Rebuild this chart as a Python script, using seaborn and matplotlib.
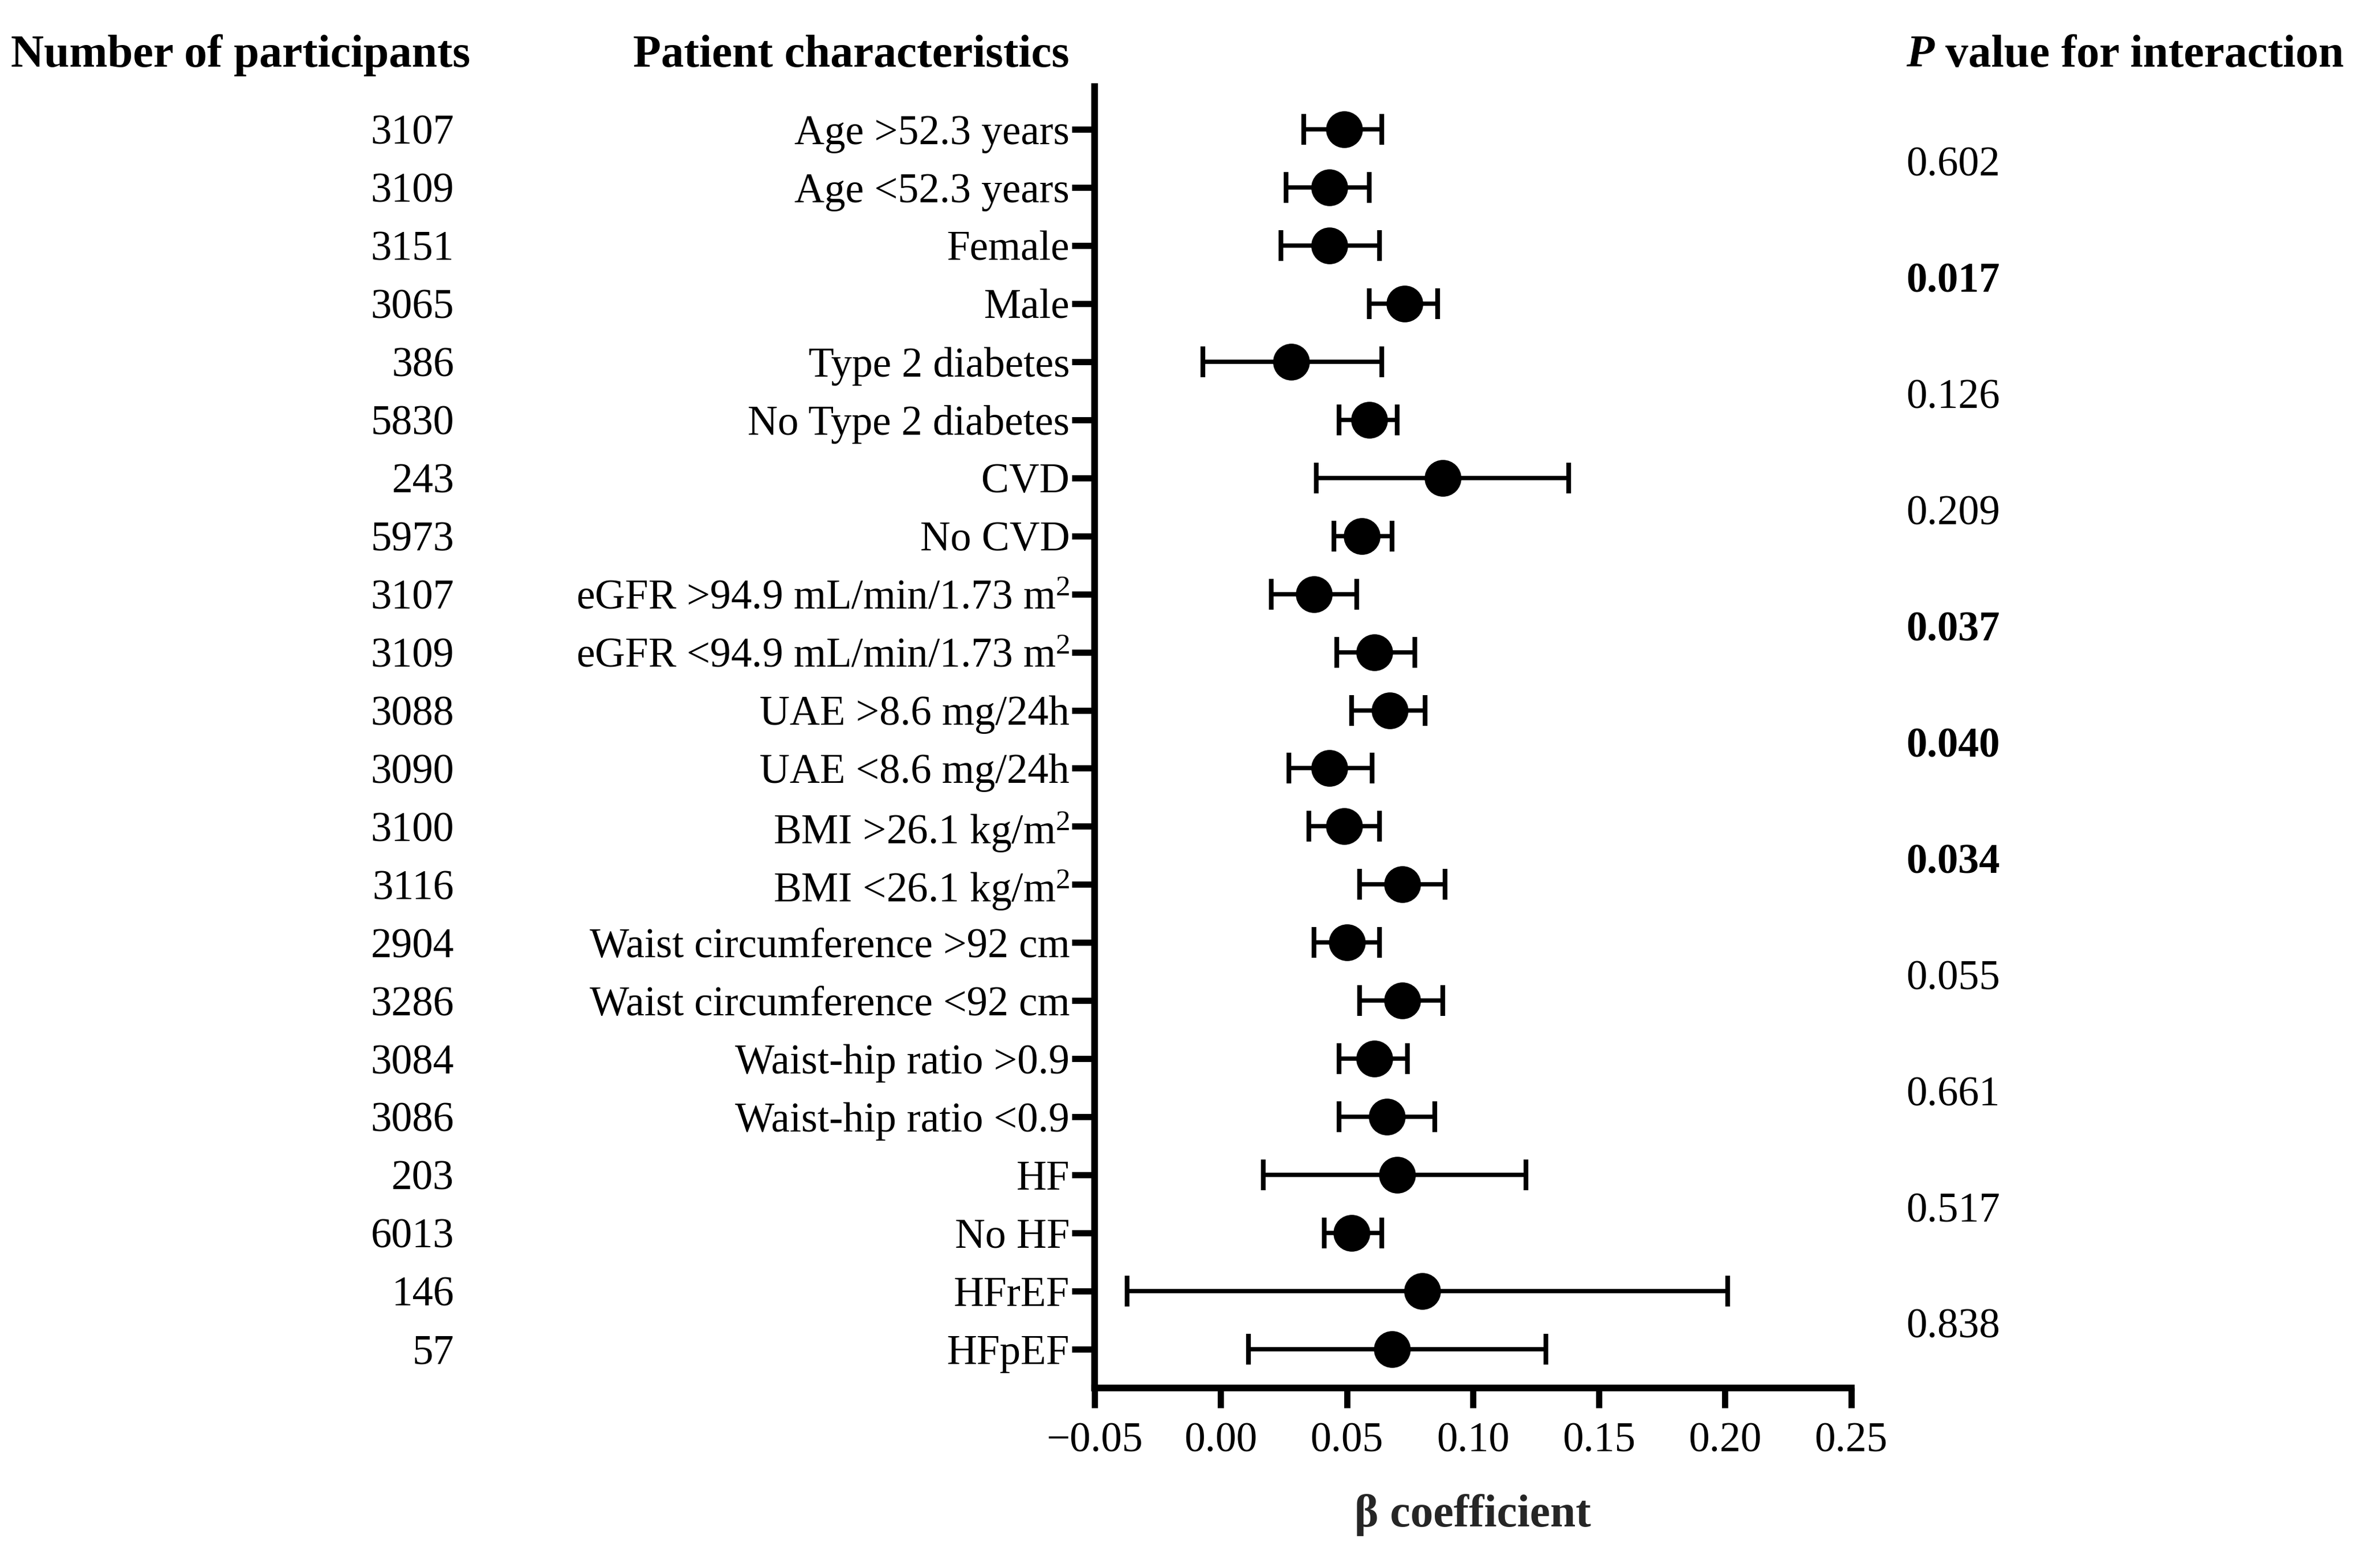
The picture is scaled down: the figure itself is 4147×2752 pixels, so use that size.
import numpy as np
import pandas as pd
import seaborn as sns
import matplotlib.pyplot as plt
from matplotlib import ticker
from matplotlib.transforms import blended_transform_factory

labels = ["Age >52.3 years", "Age <52.3 years", "Female", "Male",
          "Type 2 diabetes", "No Type 2 diabetes", "CVD", "No CVD",
          "eGFR >94.9 mL/min/1.73 m$^2$", "eGFR <94.9 mL/min/1.73 m$^2$",
          "UAE >8.6 mg/24h", "UAE <8.6 mg/24h",
          "BMI >26.1 kg/m$^2$", "BMI <26.1 kg/m$^2$",
          "Waist circumference >92 cm", "Waist circumference <92 cm",
          "Waist-hip ratio >0.9", "Waist-hip ratio <0.9",
          "HF", "No HF", "HFrEF", "HFpEF"]
participants = [3107, 3109, 3151, 3065, 386, 5830, 243, 5973, 3107, 3109, 3088,
                3090, 3100, 3116, 2904, 3286, 3084, 3086, 203, 6013, 146, 57]
beta = [0.049, 0.043, 0.043, 0.073, 0.028, 0.059, 0.088, 0.056, 0.037, 0.061, 0.067,
        0.043, 0.049, 0.072, 0.050, 0.072, 0.061, 0.066, 0.070, 0.052, 0.080, 0.068]
ci_low = [0.033, 0.026, 0.024, 0.059, -0.007, 0.047, 0.038, 0.045, 0.020, 0.046, 0.052,
          0.027, 0.035, 0.055, 0.037, 0.055, 0.047, 0.047, 0.017, 0.041, -0.037, 0.011]
ci_high = [0.064, 0.059, 0.063, 0.086, 0.064, 0.070, 0.138, 0.068, 0.054, 0.077, 0.081,
           0.060, 0.063, 0.089, 0.063, 0.088, 0.074, 0.085, 0.121, 0.064, 0.201, 0.129]
p_values = ["0.602", "0.017", "0.126", "0.209", "0.037", "0.040",
            "0.034", "0.055", "0.661", "0.517", "0.838"]
p_bold = [False, True, False, False, True, True, True, False, False, False, False]

sns.set_theme(style="ticks", rc={"axes.edgecolor": "black", "xtick.color": "black",
                                 "ytick.color": "black", "text.color": "black"})
plt.rcParams["font.family"] = ["Liberation Serif", "DejaVu Serif"]
plt.rcParams["mathtext.fontset"] = "custom"
plt.rcParams["mathtext.rm"] = "Liberation Serif"
plt.rcParams["mathtext.it"] = "Liberation Serif:italic"
plt.rcParams["mathtext.bf"] = "Liberation Serif:bold"

df = pd.DataFrame({"label": labels, "n": participants, "beta": beta,
                   "lo": ci_low, "hi": ci_high})
df["row"] = np.arange(len(df))

fig = plt.figure(figsize=(4147 / 300, 2752 / 300), dpi=300)
ax = fig.add_axes([0.4632, 0.1148, 0.3202, 0.83])

ax.errorbar(df["beta"], df["row"],
            xerr=[df["beta"] - df["lo"], df["hi"] - df["beta"]],
            fmt="none", ecolor="black", elinewidth=1.8, capsize=6.5, capthick=2.0)
sns.scatterplot(data=df, x="beta", y="row", ax=ax, color="black", s=240,
                linewidth=0, zorder=3, legend=False)

ax.set_xlim(-0.05, 0.25)
ax.set_xticks(np.arange(-0.05, 0.2501, 0.05))
ax.xaxis.set_major_formatter(ticker.FuncFormatter(lambda v, p: f"{v:.2f}".replace("-", "\u2212")))
ax.set_ylim(len(df) - 1 + 0.667, -0.736)
ax.set_yticks(df["row"])
ax.set_yticklabels(df["label"])
ax.set_ylabel("")
ax.set_xlabel("\u03b2 coefficient", fontsize=19.3, fontweight="bold", labelpad=14)

sns.despine(ax=ax)
for side in ["left", "bottom"]:
    ax.spines[side].set_linewidth(2.8)
ax.tick_params(axis="y", length=9.5, width=2.6, pad=1, labelsize=17.6)
ax.tick_params(axis="x", length=8.5, width=2.6, pad=6, labelsize=17.6)

trans = blended_transform_factory(fig.transFigure, ax.transData)
for r, n in zip(df["row"], df["n"]):
    ax.text(0.1922, r, str(n), transform=trans, ha="right", va="center_baseline",
            fontsize=17.6)

for i, (p, b) in enumerate(zip(p_values, p_bold)):
    ax.text(0.8066, 2 * i + 0.55, p, transform=trans, ha="left", va="center_baseline",
            fontsize=17.6, fontweight="bold" if b else "normal")

fig.text(0.0046, 0.9646, "Number of participants", ha="left", va="center",
         fontsize=19.3, fontweight="bold")
fig.text(0.268, 0.9646, "Patient characteristics", ha="left", va="center",
         fontsize=19.3, fontweight="bold")
ptxt = fig.text(0.8066, 0.9646, "P", ha="left", va="center", fontsize=19.3,
                fontweight="bold", fontstyle="italic")
ax.annotate(" value for interaction", xy=(1, 0), xycoords=ptxt, va="bottom", ha="left",
            fontsize=19.3, fontweight="bold", annotation_clip=False)

fig.savefig("out.png", dpi=300)
